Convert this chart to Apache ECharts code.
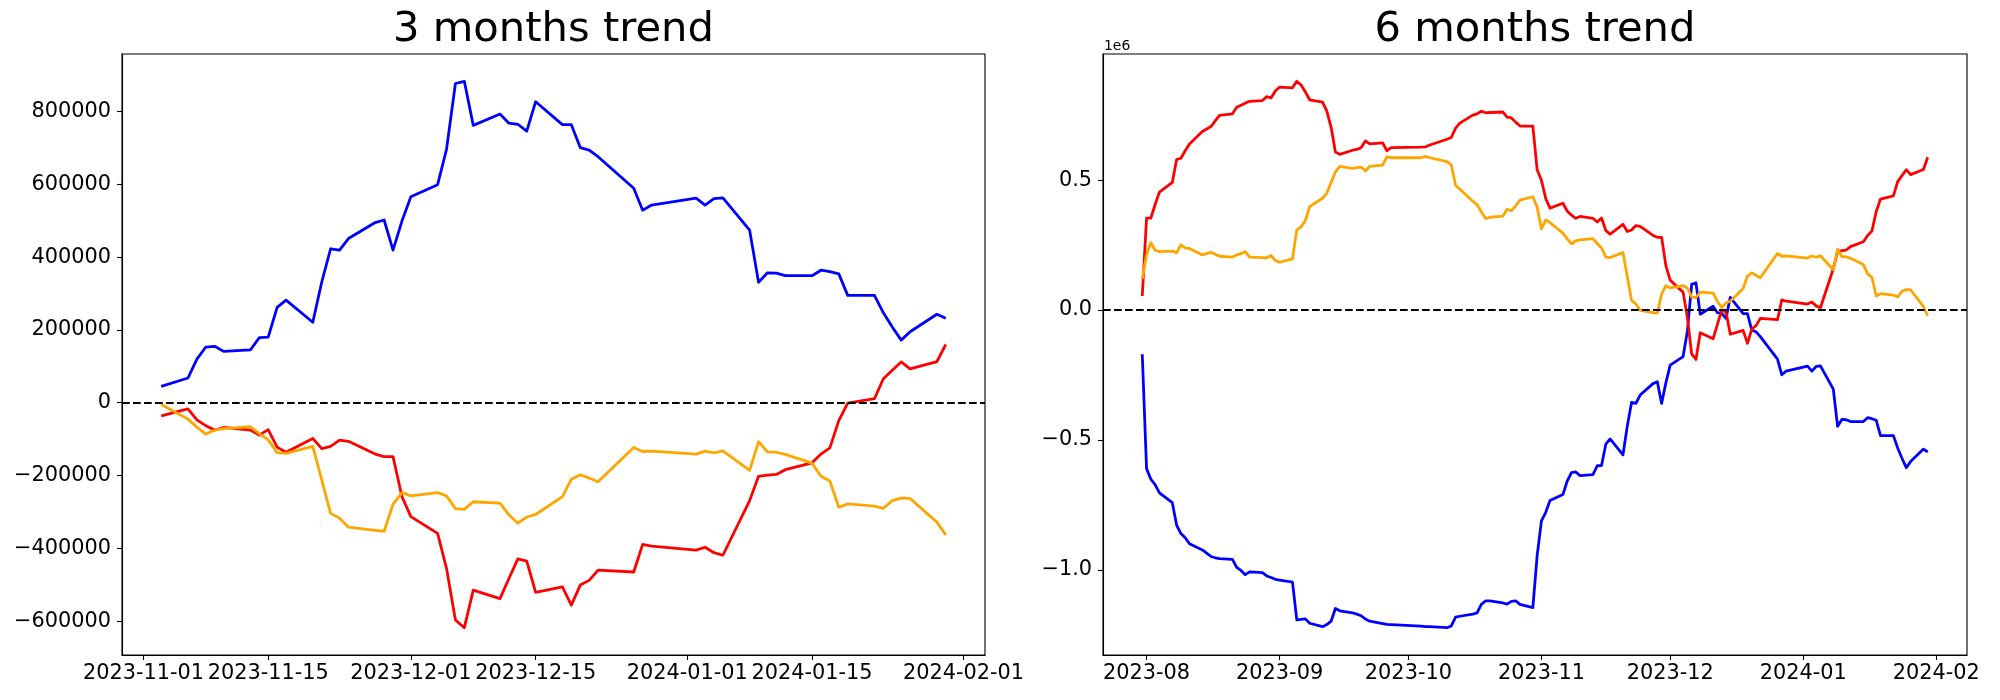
<!DOCTYPE html>
<html>
<head>
<meta charset="utf-8">
<script src="https://cdn.jsdelivr.net/npm/echarts@6/dist/echarts.min.js"></script>
<style>html,body{margin:0;padding:0;background:#fff}#c{width:2000px;height:700px}</style>
</head>
<body>
<div id="c"></div>
<script>
// ---------- 3 months data ----------
const dates3m = ['2023-11-03','2023-11-06','2023-11-07','2023-11-08','2023-11-09','2023-11-10',
'2023-11-13','2023-11-14','2023-11-15','2023-11-16','2023-11-17','2023-11-20','2023-11-21','2023-11-22','2023-11-23','2023-11-24',
'2023-11-27','2023-11-28','2023-11-29','2023-11-30','2023-12-01','2023-12-04','2023-12-05','2023-12-06','2023-12-07','2023-12-08',
'2023-12-11','2023-12-12','2023-12-13','2023-12-14','2023-12-15','2023-12-18','2023-12-19','2023-12-20','2023-12-21','2023-12-22',
'2023-12-26','2023-12-27','2023-12-28','2024-01-02','2024-01-03','2024-01-04','2024-01-05','2024-01-08','2024-01-09','2024-01-10',
'2024-01-11','2024-01-12','2024-01-15','2024-01-16','2024-01-17','2024-01-18','2024-01-19','2024-01-22','2024-01-23','2024-01-24',
'2024-01-25','2024-01-26','2024-01-29','2024-01-30'];
const blue3m = [45000,68000,120000,153000,155000,141000,145000,179000,180000,262000,282000,221000,331000,423000,419000,451000,
495000,502000,419000,499000,566000,599000,696000,877000,883000,762000,793000,768000,765000,746000,827000,764000,764000,701000,694000,676000,
589000,529000,543000,562000,543000,561000,563000,474000,331000,357000,356000,349000,349000,364000,360000,354000,295000,295000,247000,208000,
172000,195000,243000,232000];
const red3m = [-36000,-17000,-47000,-63000,-75000,-68000,-75000,-89000,-74000,-122000,-136000,-98000,-126000,-120000,-103000,-106000,
-141000,-148000,-148000,-258000,-313000,-359000,-455000,-597000,-618000,-515000,-538000,-483000,-429000,-435000,-521000,-506000,-556000,-501000,-488000,-460000,
-465000,-389000,-394000,-405000,-397000,-412000,-419000,-269000,-202000,-199000,-197000,-184000,-165000,-141000,-124000,-49000,-1000,11000,66000,89000,
112000,93000,113000,160000];
const orange3m = [-5000,-45000,-67000,-86000,-75000,-71000,-66000,-85000,-102000,-137000,-139000,-120000,-212000,-304000,-317000,-342000,
-351000,-353000,-279000,-247000,-256000,-247000,-256000,-291000,-293000,-272000,-276000,-308000,-331000,-314000,-307000,-258000,-210000,-198000,-207000,-217000,
-123000,-134000,-133000,-141000,-133000,-138000,-132000,-186000,-107000,-135000,-136000,-142000,-166000,-202000,-215000,-287000,-278000,-284000,-290000,-269000,
-262000,-263000,-328000,-363000];
const xTicks3m = ['2023-11-01','2023-11-15','2023-12-01','2023-12-15','2024-01-01','2024-01-15','2024-02-01'];
const xLabels3m = ['2023-11-01','2023-11-15','2023-12-01','2023-12-15','2024-01-01','2024-01-15','2024-02-01'];
const yTicks3m = [-600000,-400000,-200000,0,200000,400000,600000,800000];

// ---------- 6 months data ----------
const dates6m = ['2023-07-31','2023-08-01','2023-08-02','2023-08-03','2023-08-04','2023-08-07','2023-08-08','2023-08-09','2023-08-10','2023-08-11',
'2023-08-14','2023-08-16','2023-08-17','2023-08-18','2023-08-21','2023-08-22','2023-08-23','2023-08-24','2023-08-25',
'2023-08-28','2023-08-29','2023-08-30','2023-08-31','2023-09-01','2023-09-04','2023-09-05','2023-09-06','2023-09-07','2023-09-08',
'2023-09-11','2023-09-12','2023-09-13','2023-09-14','2023-09-15','2023-09-18','2023-09-19','2023-09-20','2023-09-21','2023-09-22',
'2023-09-25','2023-09-26','2023-09-27','2023-10-04','2023-10-05','2023-10-06','2023-10-10','2023-10-11','2023-10-12','2023-10-13',
'2023-10-16','2023-10-17','2023-10-18','2023-10-19','2023-10-20','2023-10-23','2023-10-24','2023-10-25','2023-10-26','2023-10-27',
'2023-10-30','2023-10-31','2023-11-01','2023-11-02',
'2023-11-03','2023-11-06','2023-11-07','2023-11-08','2023-11-09','2023-11-10',
'2023-11-13','2023-11-14','2023-11-15','2023-11-16','2023-11-17','2023-11-20','2023-11-21','2023-11-22','2023-11-23','2023-11-24',
'2023-11-27','2023-11-28','2023-11-29','2023-11-30','2023-12-01','2023-12-04','2023-12-05','2023-12-06','2023-12-07','2023-12-08',
'2023-12-11','2023-12-12','2023-12-13','2023-12-14','2023-12-15','2023-12-18','2023-12-19','2023-12-20','2023-12-21','2023-12-22',
'2023-12-26','2023-12-27','2023-12-28','2024-01-02','2024-01-03','2024-01-04','2024-01-05','2024-01-08','2024-01-09','2024-01-10',
'2024-01-11','2024-01-12','2024-01-15','2024-01-16','2024-01-17','2024-01-18','2024-01-19','2024-01-22','2024-01-23','2024-01-24',
'2024-01-25','2024-01-26','2024-01-29','2024-01-30'];
const blue6m = [-170000,-610000,-651000,-672000,-703000,-741000,-827000,-860000,-876000,-899000,
-923000,-948000,-953000,-956000,-959000,-990000,-1002000,-1018000,-1007000,
-1010000,-1023000,-1029000,-1036000,-1039000,-1047000,-1192000,-1190000,-1188000,-1205000,
-1218000,-1210000,-1197000,-1148000,-1157000,-1165000,-1170000,-1176000,-1189000,-1197000,
-1206000,-1209000,-1210000,-1216000,-1218000,-1218000,-1222000,-1215000,-1181000,-1178000,
-1170000,-1165000,-1132000,-1119000,-1119000,-1127000,-1131000,-1121000,-1119000,-1132000,
-1145000,-945000,-811000,-778000,
-733000,-710000,-658000,-625000,-623000,-637000,-633000,-599000,-598000,-516000,-496000,-557000,-447000,-355000,-359000,-327000,
-283000,-276000,-359000,-279000,-212000,-179000,-82000,99000,105000,-16000,15000,-10000,-13000,-32000,49000,-14000,-14000,-77000,-84000,-102000,
-189000,-249000,-235000,-216000,-235000,-217000,-215000,-304000,-447000,-421000,-422000,-429000,-429000,-414000,-418000,-424000,-483000,-483000,-531000,-570000,
-606000,-583000,-535000,-546000];
const red6m = [54000,354000,354000,406000,454000,491000,579000,584000,613000,639000,
687000,706000,728000,749000,755000,780000,788000,796000,803000,
806000,821000,816000,843000,858000,855000,880000,866000,839000,809000,
800000,765000,703000,608000,599000,615000,618000,625000,651000,639000,
643000,613000,625000,627000,628000,635000,657000,664000,700000,719000,
750000,755000,765000,759000,760000,762000,742000,739000,723000,708000,
708000,540000,499000,429000,
392000,411000,381000,365000,353000,360000,353000,339000,354000,306000,292000,330000,302000,308000,325000,322000,
287000,280000,280000,170000,115000,69000,-27000,-169000,-190000,-87000,-110000,-55000,-1000,-7000,-93000,-78000,-128000,-73000,-60000,-32000,
-37000,39000,34000,23000,31000,16000,9000,159000,226000,229000,231000,244000,263000,287000,304000,379000,427000,439000,494000,517000,
540000,521000,541000,588000];
const orange6m = [119000,214000,259000,230000,225000,227000,220000,251000,238000,237000,
212000,222000,215000,207000,204000,212000,217000,225000,204000,
202000,201000,210000,191000,184000,197000,308000,320000,344000,398000,
430000,450000,491000,532000,553000,545000,548000,550000,535000,553000,
558000,589000,586000,586000,591000,586000,571000,558000,480000,465000,
419000,406000,377000,352000,357000,361000,388000,382000,401000,423000,
436000,396000,312000,347000,
336000,296000,274000,255000,266000,270000,275000,256000,239000,204000,202000,221000,129000,37000,24000,-1000,
-10000,-12000,62000,94000,85000,94000,85000,50000,48000,69000,65000,33000,10000,27000,34000,83000,131000,143000,134000,124000,
218000,207000,208000,200000,208000,203000,209000,155000,234000,206000,205000,199000,175000,139000,126000,54000,63000,57000,51000,72000,
79000,78000,13000,-22000];
const xTicks6m = ['2023-08-01','2023-09-01','2023-10-01','2023-11-01','2023-12-01','2024-01-01','2024-02-01'];
const xLabels6m = ['2023-08','2023-09','2023-10','2023-11','2023-12','2024-01','2024-02'];
const yTicks6m = [-1000000,-500000,0,500000];
const yLabels6m = ['\u22121.0','\u22120.5','0.0','0.5'];

// ---------- helpers ----------
function ts(s){const p=s.split('-').map(Number);return Date.UTC(p[0],p[1]-1,p[2]);}
function pairs(dates, vals){return dates.map((d,i)=>[ts(d), vals[i]]);}
function xRange(dates){const a=ts(dates[0]), b=ts(dates[dates.length-1]); const m=(b-a)*0.05; return [a-m,b+m];}
function yRange(arrs){const all=[].concat(...arrs); const lo=Math.min(...all), hi=Math.max(...all); const m=(hi-lo)*0.05; return [lo-m,hi+m];}
function labelMap(ticks, labels){const m={}; ticks.forEach((t,i)=>{m[ts(t)]=labels[i];}); return v=>m[v]!==undefined?m[v]:'';}

const FONT = 'DejaVu Sans';
const LW = 2.78;      // data lines
const ZLW = 2.08;     // dashed zero line
const grids = [
  {left:122, top:54, width:863, height:601},
  {left:1103, top:54, width:864, height:601}
];

const xr3 = xRange(dates3m), xr6 = xRange(dates6m);
const yr3 = yRange([blue3m, red3m, orange3m]);
const yr6 = yRange([blue6m, red6m, orange6m]);

function xAxisCfg(idx, range, ticks, labels){
  const tv = ticks.map(ts);
  return {
    type:'value', gridIndex:idx, min:range[0], max:range[1], position:'bottom',
    axisLine:{show:true, onZero:false, lineStyle:{color:'#000', width:1.1}},
    axisTick:{show:true, length:5, inside:false, customValues:tv, lineStyle:{color:'#000', width:1.1}},
    axisLabel:{show:true, customValues:tv, formatter:labelMap(ticks, labels), color:'#000', fontSize:20.83, fontFamily:FONT, margin:8, hideOverlap:false},
    splitLine:{show:false}
  };
}
function yAxisCfg(idx, range, ticks, fmt){
  return {
    type:'value', gridIndex:idx, min:range[0], max:range[1], position:'left',
    axisLine:{show:true, onZero:false, lineStyle:{color:'#000', width:1.1}},
    axisTick:{show:true, length:5, inside:false, customValues:ticks, lineStyle:{color:'#000', width:1.1}},
    axisLabel:{show:true, customValues:ticks, formatter:fmt, color:'#000', fontSize:20.83, fontFamily:FONT, margin:11, hideOverlap:false},
    splitLine:{show:false}
  };
}
function lineSeries(idx, data, color, extra){
  return Object.assign({
    type:'line', xAxisIndex:idx, yAxisIndex:idx, data:data, showSymbol:false, symbol:'none',
    lineStyle:{color:color, width:LW, join:'round', cap:'butt'}, itemStyle:{color:color},
    animation:false, silent:true, clip:true
  }, extra||{});
}
function zeroLine(){
  return {markLine:{silent:true, symbol:['none','none'], label:{show:false},
    lineStyle:{color:'#000', width:ZLW, type:[7.7,3.3]}, data:[{yAxis:0}], animation:false}};
}

const chart = echarts.init(document.getElementById('c'), null, {renderer:'canvas', width:2000, height:700});
chart.setOption({
  backgroundColor:'#fff',
  animation:false,
  grid: grids.map(g=>Object.assign({show:true, borderColor:'#000', borderWidth:1.1, backgroundColor:'transparent', containLabel:false, outerBoundsMode:'none'}, g)),
  xAxis:[xAxisCfg(0, xr3, xTicks3m, xLabels3m), xAxisCfg(1, xr6, xTicks6m, xLabels6m)],
  yAxis:[
    yAxisCfg(0, yr3, yTicks3m, v=>String(v).replace('-','\u2212')),
    yAxisCfg(1, yr6, yTicks6m, v=>{const i=yTicks6m.indexOf(v); return i>=0?yLabels6m[i]:'';})
  ],
  series:[
    lineSeries(0, pairs(dates3m, blue3m), '#0000ff'),
    lineSeries(0, pairs(dates3m, red3m), '#ff0000'),
    lineSeries(0, pairs(dates3m, orange3m), '#ffa500', zeroLine()),
    lineSeries(1, pairs(dates6m, blue6m), '#0000ff'),
    lineSeries(1, pairs(dates6m, red6m), '#ff0000'),
    lineSeries(1, pairs(dates6m, orange6m), '#ffa500', zeroLine())
  ],
  graphic:[
    {type:'text', x:122+863/2, y:30, style:{text:'3 months trend', fontSize:41.67, fontFamily:FONT, fill:'#000', align:'center', verticalAlign:'middle'}},
    {type:'text', x:1103+864/2, y:30, style:{text:'6 months trend', fontSize:41.67, fontFamily:FONT, fill:'#000', align:'center', verticalAlign:'middle'}},
    {type:'text', x:1104, y:46, style:{text:'1e6', fontSize:13.9, fontFamily:FONT, fill:'#000', align:'left', verticalAlign:'middle'}}
  ]
});
</script>
</body>
</html>
